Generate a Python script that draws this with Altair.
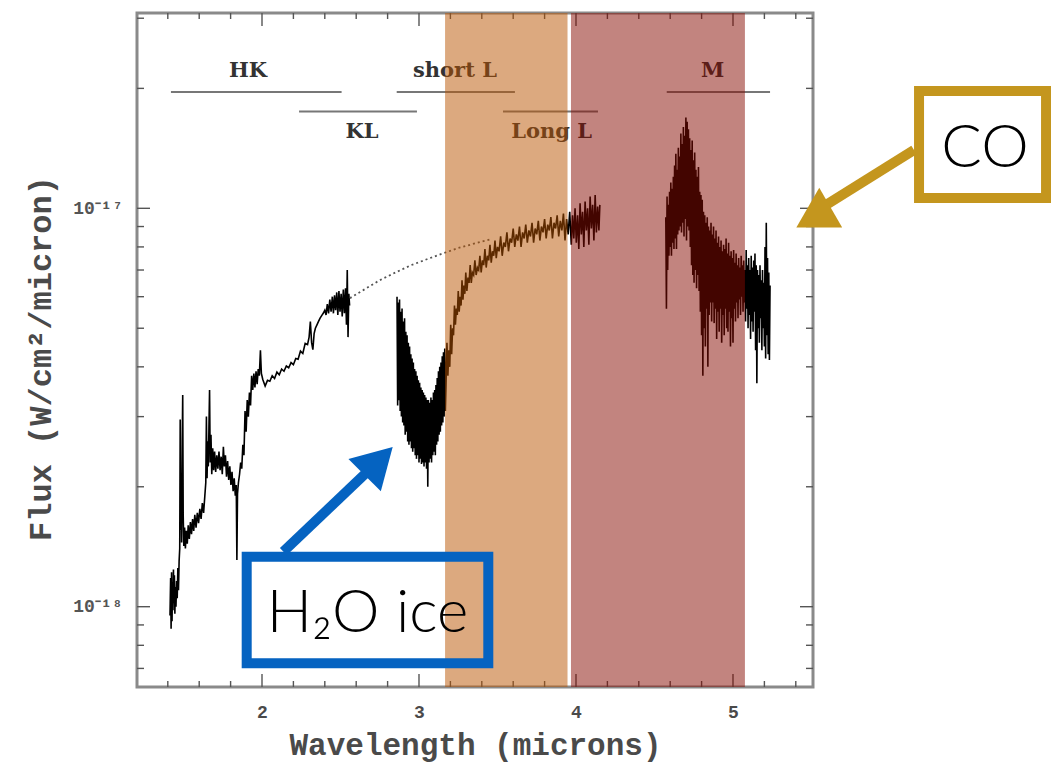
import altair as alt
import pandas as pd

# ---------------- data (flux in units of 1e-18 W/cm^2/micron) ----------------
hk_wl = [1.414, 1.418, 1.421, 1.424, 1.427, 1.430, 1.433, 1.436, 1.439, 1.442, 1.445, 1.448,
         1.452, 1.456, 1.460, 1.464, 1.468, 1.472, 1.476, 1.479, 1.482, 1.485, 1.488, 1.492,
         1.495, 1.498, 1.502, 1.507, 1.512, 1.518, 1.524, 1.530, 1.537, 1.544, 1.551, 1.558,
         1.565, 1.572, 1.580, 1.588, 1.596, 1.604, 1.612, 1.620, 1.628, 1.636, 1.642, 1.646,
         1.650, 1.654, 1.658, 1.662, 1.666, 1.670, 1.675, 1.680, 1.686, 1.692, 1.698, 1.705,
         1.712, 1.719, 1.726, 1.733, 1.740, 1.747, 1.754, 1.760, 1.767, 1.774, 1.781, 1.788,
         1.795, 1.802, 1.809, 1.816, 1.823, 1.830, 1.836, 1.840, 1.844, 1.850, 1.857, 1.864,
         1.871, 1.878, 1.885, 1.892, 1.899, 1.906, 1.913, 1.920, 1.927, 1.934, 1.941, 1.948,
         1.955, 1.962, 1.969, 1.976, 1.983, 1.990, 1.996, 2.005, 2.020, 2.035, 2.050, 2.065,
         2.080, 2.095, 2.110, 2.125, 2.140, 2.155, 2.170, 2.185, 2.200, 2.215, 2.230, 2.245,
         2.260, 2.275, 2.290, 2.300, 2.308, 2.316, 2.324, 2.332, 2.340, 2.350, 2.360, 2.370,
         2.380, 2.390, 2.400, 2.408, 2.416, 2.424, 2.432, 2.440, 2.448, 2.455, 2.462, 2.469,
         2.476, 2.483, 2.490, 2.497, 2.504, 2.511, 2.518, 2.525, 2.532, 2.538, 2.543, 2.548,
         2.553, 2.558]
hk_flux = [0.95, 1.18, 0.88, 1.22, 0.92, 1.15, 0.98, 1.24, 1.02, 1.20, 0.96, 1.12,
           1.00, 1.16, 1.05, 1.25, 1.10, 1.30, 1.40, 2.95, 1.55, 2.10, 1.45, 2.60,
           3.40, 1.70, 1.42, 1.58, 1.40, 1.55, 1.44, 1.60, 1.48, 1.63, 1.52, 1.66,
           1.55, 1.70, 1.58, 1.72, 1.62, 1.76, 1.66, 1.82, 1.72, 1.90, 2.05, 3.00,
           2.10, 2.60, 2.25, 2.80, 3.50, 2.30, 2.70, 2.15, 2.50, 2.20, 2.45, 2.18,
           2.40, 2.22, 2.45, 2.20, 2.38, 2.15, 2.52, 2.25, 2.40, 2.12, 2.32, 2.08,
           2.25, 2.02, 2.18, 1.95, 2.10, 1.90, 2.02, 1.31, 1.92, 2.05, 2.15, 2.30,
           2.22, 2.55, 2.40, 3.10, 2.75, 3.30, 3.00, 3.45, 3.20, 3.80, 3.50, 3.85,
           3.55, 3.90, 3.62, 3.95, 3.80, 4.40, 3.85, 3.72, 3.58, 3.70, 3.68, 3.80,
           3.74, 3.88, 3.82, 3.95, 3.90, 4.02, 3.98, 4.10, 4.05, 4.20, 4.18, 4.38,
           4.32, 4.58, 4.55, 4.75, 5.20, 4.60, 4.42, 4.85, 5.00, 5.10, 5.20, 5.30,
           5.38, 5.45, 5.55, 5.40, 5.75, 5.45, 5.90, 5.50, 6.00, 5.45, 6.05, 5.55,
           6.15, 5.40, 6.20, 5.50, 6.10, 5.35, 6.25, 5.45, 6.30, 5.10, 7.00, 4.75,
           6.10, 5.70]

cont_wl = [2.56, 2.65, 2.75, 2.85, 2.95, 3.05, 3.15, 3.25, 3.35, 3.45]
cont_flux = [5.95, 6.25, 6.60, 6.90, 7.20, 7.45, 7.70, 7.95, 8.15, 8.35]

l_wl = [2.860, 2.864, 2.868, 2.872, 2.876, 2.880, 2.884, 2.888, 2.892, 2.896, 2.900, 2.904,
        2.908, 2.912, 2.916, 2.920, 2.924, 2.928, 2.932, 2.936, 2.940, 2.944, 2.948, 2.952,
        2.956, 2.960, 2.964, 2.968, 2.972, 2.976, 2.980, 2.984, 2.988, 2.992, 2.996, 3.000,
        3.004, 3.008, 3.012, 3.016, 3.020, 3.024, 3.028, 3.032, 3.036, 3.040, 3.044, 3.048,
        3.052, 3.056, 3.060, 3.064, 3.068, 3.072, 3.076, 3.080, 3.084, 3.088, 3.092, 3.096,
        3.100, 3.104, 3.108, 3.112, 3.116, 3.120, 3.124, 3.128, 3.132, 3.136, 3.140, 3.144,
        3.148, 3.152, 3.156, 3.160, 3.164, 3.168,
        3.172, 3.178, 3.184, 3.190, 3.196, 3.202, 3.208, 3.214, 3.220, 3.226, 3.232, 3.238,
        3.244, 3.250, 3.256, 3.262, 3.268, 3.274, 3.280, 3.286, 3.292, 3.298, 3.305, 3.312,
        3.319, 3.326, 3.333, 3.340, 3.348, 3.356, 3.364, 3.372, 3.380, 3.388, 3.396, 3.404,
        3.412, 3.420, 3.428, 3.436, 3.444, 3.452, 3.460, 3.468, 3.476, 3.484, 3.492, 3.500,
        3.510, 3.520, 3.530, 3.540, 3.550, 3.560, 3.570, 3.580, 3.590, 3.600, 3.610, 3.620,
        3.630, 3.640, 3.650, 3.660, 3.670, 3.680, 3.690, 3.700, 3.710, 3.720, 3.730, 3.740,
        3.750, 3.760, 3.770, 3.780, 3.790, 3.800, 3.810, 3.820, 3.830, 3.840, 3.850, 3.860,
        3.870, 3.880, 3.890, 3.900, 3.910, 3.920, 3.930, 3.940, 3.950, 3.960, 3.970, 3.978,
        3.986, 3.994, 4.002, 4.010, 4.018, 4.026, 4.034, 4.042, 4.050, 4.058, 4.066, 4.074,
        4.082, 4.090, 4.098, 4.106, 4.114, 4.122, 4.130, 4.138, 4.146, 4.152]
l_flux = [6.00, 3.20, 5.80, 3.30, 5.90, 3.10, 5.50, 3.00, 5.60, 2.90, 5.20, 2.85,
          5.30, 2.70, 4.90, 2.75, 4.80, 2.60, 4.60, 2.55, 4.50, 2.60, 4.30, 2.50,
          4.20, 2.45, 4.10, 2.50, 3.95, 2.40, 3.90, 2.35, 3.80, 2.40, 3.70, 2.30,
          3.65, 2.35, 3.55, 2.28, 3.50, 2.30, 3.45, 2.25, 3.40, 2.30, 3.35, 2.22,
          3.30, 2.00, 3.30, 2.30, 3.25, 2.35, 3.35, 2.30, 3.30, 2.40, 3.45, 2.45,
          3.50, 2.40, 3.60, 2.55, 3.75, 2.60, 3.90, 2.70, 4.00, 2.75, 4.10, 2.85,
          4.25, 2.90, 4.35, 3.00, 4.45, 3.10,
          3.60, 4.60, 3.80, 4.40, 4.00, 5.10, 4.30, 5.00, 4.80, 5.70, 5.10, 5.60,
          5.40, 6.20, 5.50, 6.00, 5.70, 6.60, 5.90, 6.40, 6.10, 6.90, 6.20, 6.70,
          6.50, 7.20, 6.50, 6.90, 6.80, 7.40, 6.80, 7.10, 7.00, 7.60, 6.90, 7.40,
          7.20, 7.90, 7.10, 7.60, 7.40, 8.10, 7.30, 7.80, 7.60, 8.30, 7.50, 8.00,
          7.80, 8.50, 7.60, 8.20, 8.00, 8.70, 7.80, 8.40, 8.20, 8.90, 8.00, 8.60,
          8.30, 9.00, 8.00, 8.70, 8.40, 9.10, 8.20, 8.80, 8.50, 9.20, 8.20, 8.90,
          8.60, 9.30, 8.30, 9.00, 8.70, 9.40, 8.40, 9.10, 8.80, 9.50, 8.40, 9.20,
          8.90, 9.60, 8.50, 9.30, 8.80, 9.70, 8.30, 9.40, 8.60, 9.80, 8.10, 9.60,
          8.40, 10.0, 8.20, 9.60, 7.90, 10.3, 8.60, 9.80, 8.00, 10.4, 8.80, 10.0,
          8.10, 10.7, 8.90, 10.2, 8.30, 10.8, 8.70, 10.1, 8.80, 10.2]

m_wl = [4.572, 4.576, 4.580, 4.584, 4.588, 4.592, 4.596, 4.600, 4.604, 4.608, 4.612, 4.616,
        4.620, 4.624, 4.628, 4.632, 4.636, 4.640, 4.644, 4.648, 4.652, 4.656, 4.660, 4.664,
        4.668, 4.672, 4.676, 4.680, 4.684, 4.688, 4.692, 4.696, 4.700, 4.704, 4.708, 4.712,
        4.716, 4.720, 4.724, 4.728, 4.732, 4.736, 4.740, 4.744, 4.748, 4.752, 4.756, 4.760,
        4.764, 4.768, 4.772, 4.776, 4.780, 4.784, 4.788, 4.792, 4.796, 4.800, 4.804, 4.808,
        4.812, 4.816, 4.820, 4.824, 4.828, 4.832, 4.836, 4.840, 4.844, 4.848, 4.852, 4.856,
        4.860, 4.864, 4.868, 4.872, 4.876, 4.880, 4.884, 4.888, 4.892, 4.896, 4.900, 4.904,
        4.908, 4.912, 4.916, 4.920, 4.924, 4.928, 4.932, 4.936, 4.940, 4.944, 4.948, 4.952,
        4.956, 4.960, 4.964, 4.968, 4.972, 4.976, 4.980, 4.984, 4.988, 4.992, 4.996, 5.000,
        5.004, 5.008, 5.012, 5.016, 5.020, 5.024, 5.028, 5.032, 5.036, 5.040, 5.044, 5.048,
        5.052, 5.056, 5.060, 5.064, 5.068, 5.072, 5.076, 5.080, 5.084, 5.088, 5.092, 5.096,
        5.100, 5.104, 5.108, 5.112, 5.116, 5.120, 5.124, 5.128, 5.132, 5.136, 5.140, 5.144,
        5.148, 5.152, 5.156, 5.160, 5.164, 5.168, 5.172, 5.176, 5.180, 5.184, 5.188, 5.192,
        5.196, 5.200, 5.204, 5.208, 5.212, 5.216, 5.220, 5.224, 5.228, 5.232, 5.236]
m_flux = [9.5, 5.6, 10.7, 7.0, 10.2, 7.6, 11.0, 8.0, 11.6, 7.6, 11.2, 8.2,
          12.0, 7.9, 12.8, 8.4, 13.7, 7.9, 12.5, 8.6, 14.2, 8.8, 13.5, 9.0,
          15.4, 8.7, 14.5, 9.2, 16.0, 8.5, 15.2, 9.4, 16.9, 8.3, 16.5, 9.0,
          15.8, 8.8, 15.0, 8.0, 14.0, 7.2, 14.8, 6.8, 13.2, 6.5, 13.8, 7.0,
          12.5, 6.3, 12.0, 6.8, 12.7, 6.2, 11.0, 5.5, 10.8, 4.8, 10.5, 3.8,
          9.8, 5.0, 9.6, 4.5, 9.2, 5.6, 9.5, 4.0, 9.0, 5.4, 8.8, 5.8,
          9.2, 5.2, 8.6, 5.8, 9.0, 5.15, 8.4, 5.6, 8.8, 4.7, 8.2, 5.5,
          8.5, 4.9, 8.0, 5.6, 8.3, 4.6, 7.8, 5.4, 8.1, 4.8, 7.9, 5.6,
          8.4, 5.0, 7.7, 4.9, 8.2, 5.5, 7.6, 4.5, 7.8, 5.3, 7.5, 4.6,
          7.86, 5.6, 7.3, 5.2, 7.7, 5.8, 7.2, 5.3, 7.5, 5.9, 7.1, 5.4,
          7.6, 6.0, 7.2, 5.5, 7.4, 5.8, 7.0, 5.2, 7.86, 5.6, 7.2, 5.0,
          7.5, 5.4, 7.0, 4.7, 7.6, 5.2, 7.1, 4.9, 7.4, 5.5, 7.7, 4.4,
          7.2, 3.64, 7.0, 5.0, 6.8, 4.6, 7.2, 5.3, 6.6, 4.4, 7.0, 5.0,
          6.5, 4.5, 8.0, 4.2, 9.2, 4.8, 7.5, 4.3, 6.9, 4.16, 6.4]

# filter bands (wavelength, microns)
band_start = [3.166, 3.968]
band_end = [3.946, 5.076]
band_fill = ["#BA5400", "#850900"]

# window labels
win_names = ["HK", "KL", "short L", "Long L", "M"]
win_start = [1.420, 2.236, 2.858, 3.535, 4.578]
win_end = [2.507, 2.987, 3.611, 4.140, 5.236]
win_line_flux = [19.6, 17.5, 19.6, 17.5, 19.6]
win_text_wl = [1.911, 2.637, 3.229, 3.845, 4.871]
win_text_flux = [22.1, 15.5, 22.1, 15.5, 22.1]

# axis ticks
x_major = [2, 3, 4, 5]
x_minor = [1.4, 1.6, 1.8, 2.2, 2.4, 2.6, 2.8, 3.2, 3.4, 3.6, 3.8, 4.2, 4.4, 4.6, 4.8, 5.2, 5.4]
y_major = [1, 10]
y_minor = [0.7, 0.8, 0.9, 2, 3, 4, 5, 6, 7, 8, 9, 20, 30]

# annotations
co_box = {"x0": 6.185, "x1": 6.994, "y0": 10.61, "y1": 19.70}
co_text = {"wl": 6.605, "flux": 12.70, "label": "CO"}
co_shaft = {"x0": 6.153, "y0": 14.0, "x1": 5.541, "y1": 9.90}
co_head = {"wl": 5.513, "flux": 9.48}
h2o_box = {"x0": 1.9025, "x1": 3.4414, "y0": 0.721, "y1": 1.335}
h2o_text = {"wl": 2.672, "flux": 0.866, "label": "H₂O ice"}
h2o_shaft = {"x0": 2.136, "y0": 1.374, "x1": 2.675, "y1": 2.19}
h2o_head = {"wl": 2.743, "flux": 2.32}

# ---------------- layout ----------------
W, H = 676, 674
XDOM = [1.2038, 5.5096]
YDOM = [0.6287, 30.92]
GOLD = "#C4961E"
BLUE = "#0563C1"
TICK = "#555555"
MONO = "Liberation Mono"

xs = alt.Scale(domain=XDOM, nice=False, zero=False)
ys = alt.Scale(type="log", domain=YDOM, nice=False)

AX = alt.Axis(values=x_major, ticks=False, tickSize=0, domain=False, grid=False,
              labelFont=MONO, labelFontSize=18, labelFontWeight="bold",
              labelColor="#4a4a4a", labelPadding=16,
              title="Wavelength (microns)", titleFont=MONO, titleFontSize=31,
              titleFontWeight="bold", titleColor="#4a4a4a", titleY=58,
              titleBaseline="middle")
AY = alt.Axis(values=y_major, ticks=False, tickSize=0, domain=False, grid=False,
              labelExpr="datum.value < 5 ? '10⁻¹⁸' : '10⁻¹⁷'",
              labelFont=MONO, labelFontSize=18, labelFontWeight="bold",
              labelColor="#555", labelPadding=15,
              title="Flux (W/cm²/micron)", titleFont=MONO, titleFontSize=32,
              titleFontWeight="bold", titleColor="#4a4a4a", titleX=-97,
              titleY=H / 2 + 8, titleAngle=270, titleBaseline="middle",
              titleAlign="center")


def X(f):
    return alt.X(f, type="quantitative", scale=xs, axis=AX)


def Y(f):
    return alt.Y(f, type="quantitative", scale=ys, axis=AY)


spec = pd.DataFrame({
    "wl": hk_wl + l_wl + m_wl,
    "flux": hk_flux + l_flux + m_flux,
    "seg": ["HK"] * len(hk_wl) + ["L"] * len(l_wl) + ["M"] * len(m_wl),
})

spectrum = alt.Chart(spec).mark_line(color="black", strokeWidth=1.6).encode(
    x=X("wl"), y=Y("flux"), detail="seg:N")

cont = alt.Chart(pd.DataFrame({"wl": cont_wl, "flux": cont_flux})).mark_line(
    color="#555", strokeWidth=1.8, strokeDash=[2, 3]).encode(x=X("wl"), y=Y("flux"))

# frame
frame = alt.Chart(pd.DataFrame({"f": [0]})).mark_rect(
    fillOpacity=0, stroke="#8a8a8a", strokeWidth=3).encode(
    x=alt.value(0), x2=alt.value(W), y=alt.value(0), y2=alt.value(H))

# ticks on all four sides
layers = []
for vals, ln in ((x_major, 13), (x_minor, 6)):
    d = pd.DataFrame({"v": vals})
    b = alt.Chart(d).mark_rule(color=TICK, strokeWidth=1.4)
    layers.append(b.encode(x=X("v"), y=alt.value(H), y2=alt.value(H - ln)))
    layers.append(b.encode(x=X("v"), y=alt.value(0), y2=alt.value(ln)))
for vals, ln in ((y_major, 13), (y_minor, 7)):
    d = pd.DataFrame({"v": vals})
    b = alt.Chart(d).mark_rule(color=TICK, strokeWidth=1.4)
    layers.append(b.encode(y=Y("v"), x=alt.value(0), x2=alt.value(ln)))
    layers.append(b.encode(y=Y("v"), x=alt.value(W), x2=alt.value(W - ln)))

win = pd.DataFrame({"name": win_names, "x0": win_start, "x1": win_end,
                    "ly": win_line_flux, "tx": win_text_wl, "ty": win_text_flux})
win_lines = alt.Chart(win).mark_rule(color="#777", strokeWidth=2).encode(
    x=X("x0"), x2="x1", y=Y("ly"))
win_text = alt.Chart(win).mark_text(font="DejaVu Serif", fontSize=21, fontWeight="bold",
                                    color="#333", align="center", baseline="middle").encode(
    x=X("tx"), y=Y("ty"), text="name:N")

bands = alt.Chart(pd.DataFrame({"x0": band_start, "x1": band_end, "fill": band_fill})).mark_rect(
    opacity=0.5).encode(x=X("x0"), x2="x1", y=alt.value(0), y2=alt.value(H),
                        fill=alt.Fill("fill:N", scale=None))

boxes = alt.Chart(pd.DataFrame({
    "x0": [co_box["x0"], h2o_box["x0"]], "x1": [co_box["x1"], h2o_box["x1"]],
    "y0": [co_box["y0"], h2o_box["y0"]], "y1": [co_box["y1"], h2o_box["y1"]],
    "col": [GOLD, BLUE]})).mark_rect(fillOpacity=0, strokeWidth=10).encode(
    x=X("x0"), x2="x1", y=Y("y0"), y2="y1", stroke=alt.Stroke("col:N", scale=None))

shafts = alt.Chart(pd.DataFrame({
    "x0": [co_shaft["x0"], h2o_shaft["x0"]], "x1": [co_shaft["x1"], h2o_shaft["x1"]],
    "y0": [co_shaft["y0"], h2o_shaft["y0"]], "y1": [co_shaft["y1"], h2o_shaft["y1"]],
    "col": [GOLD, BLUE]})).mark_rule(strokeWidth=10).encode(
    x=X("x0"), x2="x1", y=Y("y0"), y2="y1", color=alt.Color("col:N", scale=None))

co_arrow_head = alt.Chart(pd.DataFrame({"wl": [co_head["wl"]], "flux": [co_head["flux"]]})).mark_point(
    shape="triangle-up", filled=True, size=2100, angle=240, color=GOLD, opacity=1,
    strokeWidth=0).encode(x=X("wl"), y=Y("flux"))
h2o_arrow_head = alt.Chart(pd.DataFrame({"wl": [h2o_head["wl"]], "flux": [h2o_head["flux"]]})).mark_point(
    shape="triangle-up", filled=True, size=2100, angle=45, color=BLUE, opacity=1,
    strokeWidth=0).encode(x=X("wl"), y=Y("flux"))

ann_text = alt.Chart(pd.DataFrame({
    "wl": [co_text["wl"], h2o_text["wl"]], "flux": [co_text["flux"], h2o_text["flux"]],
    "label": [co_text["label"], h2o_text["label"]]})).mark_text(
    font="Lato", fontWeight=300, fontSize=60, color="black", align="center",
    baseline="alphabetic").encode(x=X("wl"), y=Y("flux"), text="label:N")

chart = alt.layer(
    spectrum, frame, *layers, win_lines, win_text, cont, bands,
    boxes, shafts, co_arrow_head, h2o_arrow_head, ann_text,
).properties(
    width=W, height=H,
    autosize=alt.AutoSizeParams(type="none"),
    padding={"left": 137, "top": 13, "right": 238, "bottom": 79},
).configure_view(stroke=None).configure(background="white")

chart.save("out.html", embed_options={"renderer": "svg", "actions": False})
